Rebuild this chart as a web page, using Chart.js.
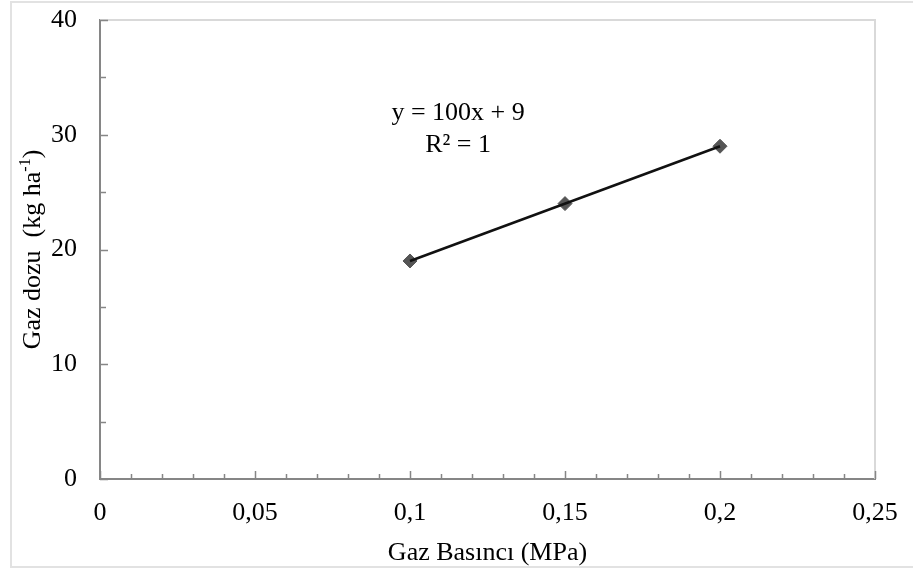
<!DOCTYPE html>
<html>
<head>
<meta charset="utf-8">
<style>
  html, body { margin: 0; padding: 0; background: #ffffff; }
  canvas { display: block; }
</style>
<script src="https://cdn.jsdelivr.net/npm/chart.js@4/dist/chart.umd.min.js"></script>
</head>
<body>
<canvas id="chart" width="913" height="571"></canvas>
<script>
// Gas pressure (MPa) vs. gas dose (kg ha-1)
const pressure = [0.1, 0.15, 0.2];
const dose = [19, 24, 29];

// Linear trendline end points: y = 100x + 9
const trendPressure = [0.1, 0.2];
const trendDose = [19, 29];

const xTickLabels = ['0', '0,05', '0,1', '0,15', '0,2', '0,25'];
const yTickLabels = ['0', '10', '20', '30', '40'];

const equationLines = ['y = 100x + 9', 'R² = 1'];

const SERIF = '"Liberation Serif", "Times New Roman", serif';
const AXIS_GRAY = '#868686';
const FRAME_GRAY = '#d9d9d9';

// Position of the trendline equation, in axis units
const equationAnchor = { x: 0.1155, y: 31.3 };

// Keep the plot area fixed: no extra room for overhanging tick labels
function noOverhang(scale) {
  scale.paddingTop = 0;
  scale.paddingBottom = 0;
  scale.paddingLeft = 0;
  scale.paddingRight = 0;
}

const framePlugin = {
  id: 'frame',
  beforeDraw(chart) {
    const ctx = chart.ctx;
    ctx.save();
    ctx.fillStyle = '#ffffff';
    ctx.fillRect(0, 0, chart.width, chart.height);
    ctx.strokeStyle = '#e2e2e2';
    ctx.lineWidth = 2;
    ctx.strokeRect(11, 2, chart.width + 20, 565);
    ctx.restore();
  },
  beforeDatasetsDraw(chart) {
    const { ctx, chartArea: a } = chart;
    ctx.save();
    ctx.strokeStyle = FRAME_GRAY;
    ctx.lineWidth = 2;
    ctx.beginPath();
    ctx.moveTo(a.left, a.top);
    ctx.lineTo(a.right, a.top);
    ctx.lineTo(a.right, a.bottom);
    ctx.stroke();

    // inward tick marks
    const xs = chart.scales.x, ys = chart.scales.y;
    ctx.strokeStyle = AXIS_GRAY;
    ctx.lineWidth = 1.5;
    ctx.beginPath();
    for (let i = 0; i <= 25; i++) {
      const px = Math.round(xs.getPixelForValue(i * 0.01)) + 0.5;
      const len = i % 5 === 0 ? 8 : 5;
      ctx.moveTo(px, a.bottom);
      ctx.lineTo(px, a.bottom - len);
    }
    for (let i = 0; i <= 8; i++) {
      const py = Math.round(ys.getPixelForValue(i * 5)) + 0.5;
      const len = i % 2 === 0 ? 8 : 6;
      ctx.moveTo(a.left, py);
      ctx.lineTo(a.left + len, py);
    }
    ctx.stroke();
    ctx.restore();
  },
  afterDraw(chart) {
    const ctx = chart.ctx;
    const xs = chart.scales.x, ys = chart.scales.y;
    ctx.save();
    ctx.fillStyle = '#000000';

    // trendline equation
    ctx.font = '26px ' + SERIF;
    ctx.textAlign = 'center';
    ctx.textBaseline = 'alphabetic';
    const ex = xs.getPixelForValue(equationAnchor.x);
    const ey = ys.getPixelForValue(equationAnchor.y);
    equationLines.forEach((t, i) => ctx.fillText(t, ex, ey + i * 32));

    // y axis title with superscript
    const parts = [
      { t: 'Gaz dozu  (kg ha', size: 26, rise: 0 },
      { t: '-1', size: 16, rise: 10 },
      { t: ')', size: 26, rise: 0 }
    ];
    let total = 0;
    parts.forEach(p => { ctx.font = p.size + 'px ' + SERIF; p.w = ctx.measureText(p.t).width; total += p.w; });
    const cy = (chart.chartArea.top + chart.chartArea.bottom) / 2;
    ctx.translate(40, cy);
    ctx.rotate(-Math.PI / 2);
    ctx.textAlign = 'left';
    let cx = -total / 2;
    parts.forEach(p => {
      ctx.font = p.size + 'px ' + SERIF;
      ctx.fillText(p.t, cx, -p.rise);
      cx += p.w;
    });
    ctx.restore();
  }
};

new Chart(document.getElementById('chart'), {
  type: 'scatter',
  data: {
    datasets: [
      {
        label: 'Doğrusal (Gaz dozu)',
        data: trendPressure.map((x, i) => ({ x, y: trendDose[i] })),
        showLine: true,
        borderColor: '#111111',
        borderWidth: 2.5,
        pointRadius: 0,
        pointHoverRadius: 0,
        order: 0
      },
      {
        label: 'Gaz dozu',
        data: pressure.map((x, i) => ({ x, y: dose[i] })),
        showLine: false,
        pointStyle: 'rectRot',
        pointRadius: 7,
        pointBackgroundColor: '#555555',
        pointBorderColor: '#555555',
        pointBorderWidth: 1,
        order: 1
      }
    ]
  },
  options: {
    responsive: false,
    animation: false,
    devicePixelRatio: 1,
    layout: { padding: { left: 10, top: 20, right: 38, bottom: 4 } },
    plugins: {
      legend: { display: false },
      tooltip: { enabled: false },
      title: { display: false }
    },
    scales: {
      x: {
        type: 'linear',
        min: 0,
        max: 0.25,
        afterFit(scale) { scale.height = 88; noOverhang(scale); },
        ticks: {
          stepSize: 0.05,
          padding: 19,
          color: '#000000',
          font: { family: SERIF, size: 26 },
          maxRotation: 0,
          autoSkip: false,
          callback: (v, i) => xTickLabels[i]
        },
        grid: { display: false, drawTicks: false },
        border: { display: true, color: AXIS_GRAY, width: 2 },
        title: {
          display: true,
          text: 'Gaz Basıncı (MPa)',
          color: '#000000',
          font: { family: SERIF, size: 26, lineHeight: 1.1 },
          padding: { top: 0, bottom: 0 }
        }
      },
      y: {
        type: 'linear',
        min: 0,
        max: 40,
        afterFit(scale) { scale.width = 90; noOverhang(scale); },
        ticks: {
          stepSize: 10,
          padding: 23,
          color: '#000000',
          font: { family: SERIF, size: 26 },
          callback: (v, i) => yTickLabels[i]
        },
        grid: { display: false, drawTicks: false },
        border: { display: true, color: AXIS_GRAY, width: 2 }
      }
    }
  },
  plugins: [framePlugin]
});
</script>
</body>
</html>
